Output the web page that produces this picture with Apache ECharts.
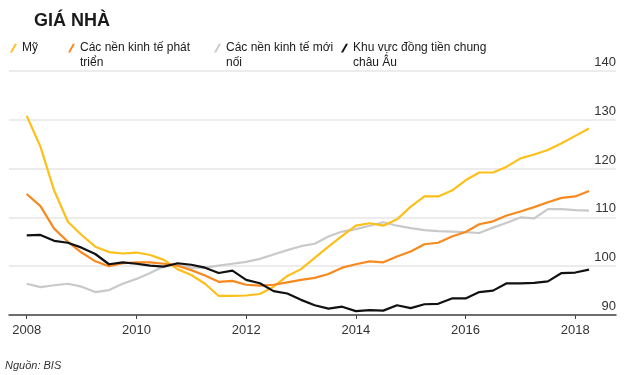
<!DOCTYPE html>
<html>
<head>
<meta charset="utf-8">
<script src="https://cdn.jsdelivr.net/npm/echarts@6/dist/echarts.min.js"></script>
<style>
  html, body { margin: 0; padding: 0; background: #fff; }
  #chart { width: 630px; height: 375px; }
</style>
</head>
<body>
<div id="chart"></div>
<script>
// quarterly index values, 2008 Q1 .. 2018 Q2
const startYear = 2008
const yearTicks = [2008, 2010, 2012, 2014, 2016, 2018]

const us = [130.8, 124.5, 115.5, 109.1, 106.4, 104.0, 102.9, 102.6, 102.8, 102.3,
  101.3, 99.4, 98.2, 96.4, 93.9, 93.9, 94.0, 94.3, 95.8, 98.0,
  99.4, 101.7, 104.0, 106.2, 108.3, 108.8, 108.3, 109.6, 112.2, 114.3,
  114.3, 115.5, 117.6, 119.2, 119.2, 120.4, 122.1, 122.9, 123.8, 125.2,
  126.7, 128.2]
const advanced = [114.8, 112.3, 107.7, 105.0, 102.8, 101.0, 100.0, 100.6, 100.8, 100.8,
  100.5, 100.1, 99.2, 98.1, 96.8, 97.0, 96.2, 96.0, 96.2, 96.7,
  97.2, 97.6, 98.4, 99.7, 100.4, 101.0, 100.8, 102.0, 103.0, 104.5,
  104.8, 106.1, 107.0, 108.6, 109.2, 110.4, 111.2, 112.1, 113.1, 114.0,
  114.3, 115.4]
const emerging = [96.4, 95.7, 96.1, 96.4, 95.8, 94.7, 95.1, 96.4, 97.4, 98.6,
  100.0, 100.5, 99.7, 99.7, 100.1, 100.5, 100.9, 101.5, 102.4, 103.3,
  104.1, 104.6, 106.1, 107.1, 107.6, 108.3, 109.0, 108.3, 107.8, 107.4,
  107.2, 107.1, 107.0, 106.8, 107.9, 108.9, 110.0, 109.8, 111.7, 111.7,
  111.5, 111.4]
const euro = [106.3, 106.4, 105.2, 104.8, 103.8, 102.5, 100.4, 100.8, 100.5, 100.1,
  99.9, 100.6, 100.3, 99.7, 98.6, 99.1, 97.2, 96.5, 94.9, 94.4,
  93.1, 92.0, 91.3, 91.7, 90.8, 91.0, 90.9, 92.0, 91.4, 92.2,
  92.3, 93.4, 93.4, 94.7, 95.0, 96.5, 96.5, 96.6, 96.9, 98.6,
  98.7, 99.3]

const names = ["Mỹ", "Các nền kinh tế phát\ntriển", "Các nền kinh tế mới\nnối", "Khu vực đồng tiền chung\nchâu Âu"]
const colors = ["#fdbf1a", "#f7891f", "#c9c9c9", "#111111"]

function toPairs(arr) {
  return arr.map((v, i) => [startYear + i * 0.25, v])
}

const font = "Liberation Sans, Arial, sans-serif"
const slash = "path://M0,10 L2.4,10 L8,0 L5.6,0 Z"

// two-line names get an empty line on top so the icon sits beside the first line
function legendFor(idx, left, multi) {
  return {
    left: left,
    top: multi ? 25.5 : 40.5,
    padding: 0,
    itemWidth: 7,
    itemHeight: 9,
    icon: slash,
    selectedMode: false,
    data: [{ name: names[idx], icon: slash, itemStyle: { color: colors[idx] } }],
    formatter: multi ? (n => "\n" + n) : "{name}",
    textStyle: {
      fontFamily: font,
      fontSize: 12,
      color: "#1a1a1a",
      lineHeight: 15
    }
  }
}

const chart = echarts.init(document.getElementById("chart"))

chart.setOption({
  animation: false,
  title: {
    text: "GIÁ NHÀ",
    left: 29,
    top: 7,
    textStyle: { fontFamily: font, fontSize: 18, fontWeight: "bold", color: "#1a1a1a" }
  },
  legend: [
    legendFor(0, 10, false),
    legendFor(1, 68, true),
    legendFor(2, 214, true),
    legendFor(3, 341, true)
  ],
  grid: { left: 9, right: 14, top: 71, bottom: 60 },
  xAxis: {
    type: "value",
    min: 2007.677,
    max: 2018.742,
    axisLine: { lineStyle: { color: "#444", width: 1.5 } },
    axisTick: { length: 4, lineStyle: { color: "#444" }, customValues: yearTicks },
    axisLabel: {
      customValues: yearTicks,
      formatter: v => String(Math.round(v)),
      fontFamily: font,
      fontSize: 13,
      color: "#333",
      margin: 9
    },
    splitLine: { show: false }
  },
  yAxis: {
    type: "value",
    position: "right",
    min: 90,
    max: 140,
    interval: 10,
    axisLine: { show: false },
    axisTick: { show: false },
    axisLabel: {
      inside: true,
      margin: 0,
      align: "right",
      verticalAlign: "bottom",
      padding: [0, 0, 2, 0],
      fontFamily: font,
      fontSize: 13,
      color: "#333"
    },
    splitLine: { lineStyle: { color: "#e6e6e6", width: 1.5 } }
  },
  graphic: [{
    type: "text",
    left: 5,
    top: 360,
    style: { text: "Nguồn: BIS", font: "italic 11px " + font, fill: "#333" }
  }],
  series: [
    { name: names[2], type: "line", data: toPairs(emerging) },
    { name: names[0], type: "line", data: toPairs(us) },
    { name: names[1], type: "line", data: toPairs(advanced) },
    { name: names[3], type: "line", data: toPairs(euro) }
  ].map(s => {
    const c = colors[names.indexOf(s.name)]
    return Object.assign(s, {
      showSymbol: false,
      color: c,
      lineStyle: { color: c, width: 2.2 }
    })
  })
})
</script>
</body>
</html>
